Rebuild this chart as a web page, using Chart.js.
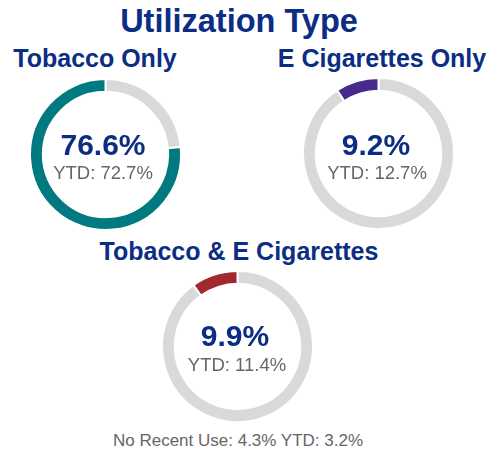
<!DOCTYPE html>
<html>
<head>
<meta charset="utf-8">
<script src="https://cdn.jsdelivr.net/npm/chart.js@4"></script>
<style>
  html, body { margin: 0; padding: 0; background: #fff; }
  body { width: 488px; height: 452px; position: relative; overflow: hidden;
         font-family: "Liberation Sans", Arial, sans-serif; }
  .t { position: absolute; white-space: nowrap; line-height: 1; transform: translateX(-50%); }
  .blue { color: #0b2d84; font-weight: bold; }
  .grey { color: #666666; }
  canvas { position: absolute; }
</style>
</head>
<body>
<div class="t blue" style="left:239px; top:5px; font-size:32.5px;">Utilization Type</div>

<div class="t blue" style="left:95px; top:45.5px; font-size:25px;">Tobacco Only</div>
<div class="t blue" style="left:382px; top:45.5px; font-size:25px;">E Cigarettes Only</div>
<div class="t blue" style="left:239px; top:239px; font-size:25px;">Tobacco &amp; E Cigarettes</div>

<canvas id="c1" width="153" height="153" style="left:29px; top:78px;"></canvas>
<canvas id="c2" width="153" height="153" style="left:302px; top:77px;"></canvas>
<canvas id="c3" width="153" height="153" style="left:161px; top:270px;"></canvas>

<div class="t blue" id="v1" style="left:103px; top:130px; font-size:30px;"></div>
<div class="t grey" id="y1" style="left:103px; top:164px; font-size:18.5px;"></div>
<div class="t blue" id="v2" style="left:376px; top:130px; font-size:30px;"></div>
<div class="t grey" id="y2" style="left:377px; top:164px; font-size:18.5px;"></div>
<div class="t blue" id="v3" style="left:235px; top:321px; font-size:30px;"></div>
<div class="t grey" id="y3" style="left:237px; top:356px; font-size:18.5px;"></div>

<div class="t grey" id="foot" style="left:238px; top:432px; font-size:17px;"></div>

<script>
// values
const groups = ['Tobacco Only', 'E Cigarettes Only', 'Tobacco & E Cigarettes'];
const current = [76.6, 9.2, 9.9];
const ytd = [72.7, 12.7, 11.4];
const colors = ['#007a80', '#472a8b', '#a3282e'];
const noRecentUse = 4.3;
const noRecentUseYtd = 3.2;

function makeDonut(id, value, color) {
  const el = document.getElementById(id);
  return new Chart(el, {
    type: 'doughnut',
    data: {
      labels: ['Other', 'Value'],
      datasets: [{
        data: [100 - value, value],
        backgroundColor: ['#d9d9db', color],
        hoverBackgroundColor: ['#d9d9db', color],
        borderColor: '#ffffff',
        borderWidth: 2
      }]
    },
    options: {
      responsive: false,
      animation: false,
      cutout: '83%',
      layout: { padding: 0 },
      plugins: { legend: { display: false }, tooltip: { enabled: false } }
    }
  });
}

for (let i = 0; i < groups.length; i++) {
  makeDonut('c' + (i + 1), current[i], colors[i]);
  document.getElementById('v' + (i + 1)).textContent = current[i].toFixed(1) + '%';
  document.getElementById('y' + (i + 1)).textContent = 'YTD: ' + ytd[i].toFixed(1) + '%';
}
document.getElementById('foot').textContent =
  'No Recent Use: ' + noRecentUse.toFixed(1) + '% YTD: ' + noRecentUseYtd.toFixed(1) + '%';
</script>
</body>
</html>
